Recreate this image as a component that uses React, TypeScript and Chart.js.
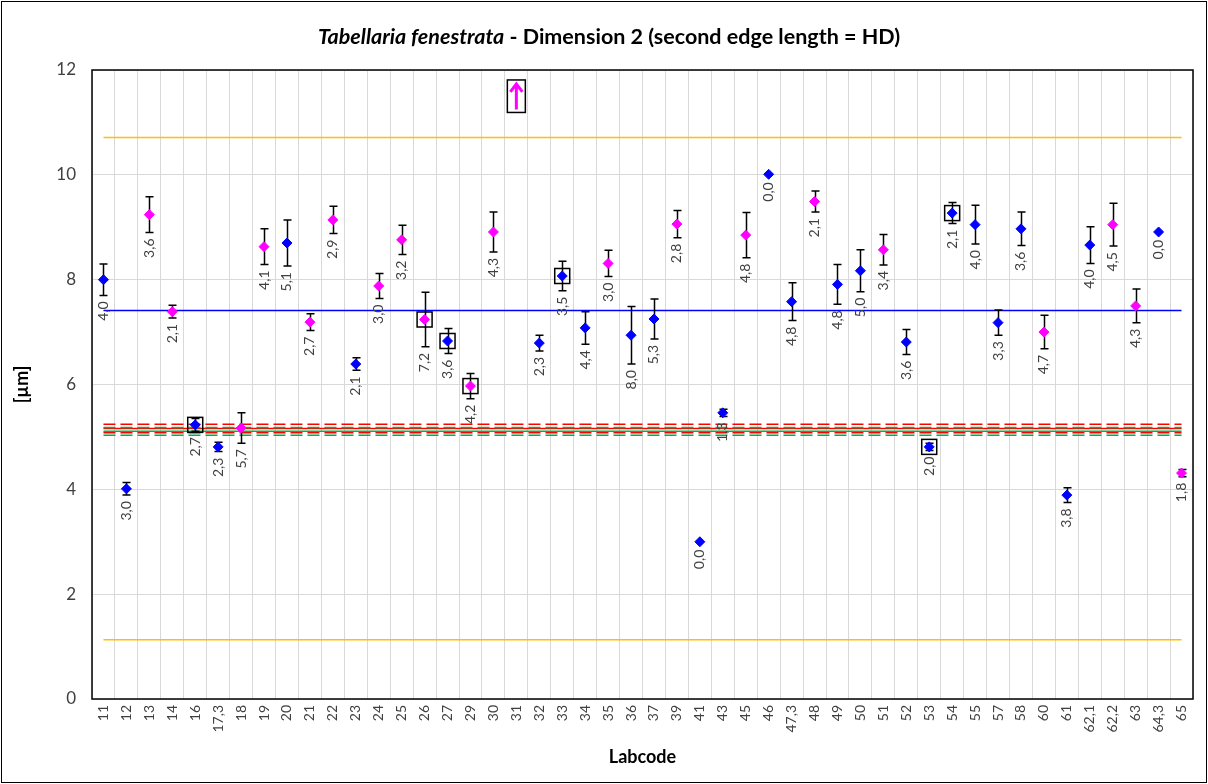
import React, { useEffect, useRef } from "react";
import { Chart, registerables } from "chart.js";

Chart.register(...registerables);

// ---------- DATA ----------
const labcodes = [
  "11", "12", "13", "14", "16", "17,3", "18", "19", "20", "21", "22", "23",
  "24", "25", "26", "27", "29", "30", "31", "32", "33", "34", "35", "36",
  "37", "39", "41", "43", "45", "46", "47,3", "48", "49", "50", "51", "52",
  "53", "54", "55", "57", "58", "60", "61", "62,1", "62,2", "63", "64,3", "65",
];

// group: "b" = blue series, "m" = magenta series, "" = no point (out of range)
const groups = [
  "b", "b", "m", "m", "b", "b", "m", "m", "b", "m", "m", "b",
  "m", "m", "m", "b", "m", "m", "", "b", "b", "b", "m", "b",
  "b", "m", "b", "b", "m", "b", "b", "m", "b", "b", "m", "b",
  "b", "b", "b", "b", "b", "m", "b", "b", "m", "m", "b", "m",
];

const means = [
  8.0, 4.01, 9.24, 7.39, 5.23, 4.81, 5.17, 8.63, 8.7, 7.19, 9.14, 6.39,
  7.88, 8.76, 7.24, 6.83, 5.97, 8.91, null, 6.79, 8.07, 7.08, 8.31, 6.94,
  7.25, 9.06, 3.0, 5.46, 8.85, 10.01, 7.58, 9.49, 7.91, 8.17, 8.57, 6.81,
  4.81, 9.27, 9.05, 7.18, 8.97, 7.0, 3.89, 8.66, 9.05, 7.5, 8.91, 4.31,
];

const sds = [
  0.3, 0.12, 0.34, 0.12, 0.12, 0.09, 0.29, 0.34, 0.44, 0.16, 0.26, 0.12,
  0.24, 0.28, 0.52, 0.24, 0.24, 0.38, 0, 0.15, 0.28, 0.31, 0.25, 0.55,
  0.38, 0.26, 0, 0.07, 0.43, 0, 0.36, 0.2, 0.38, 0.4, 0.29, 0.24,
  0.07, 0.2, 0.37, 0.24, 0.32, 0.32, 0.14, 0.35, 0.41, 0.32, 0, 0.07,
];

const pointLabels = [
  "4,0", "3,0", "3,6", "2,1", "2,7", "2,3", "5,7", "4,1", "5,1", "2,7", "2,9", "2,1",
  "3,0", "3,2", "7,2", "3,6", "4,2", "4,3", "", "2,3", "3,5", "4,4", "3,0", "8,0",
  "5,3", "2,8", "0,0", "1,3", "4,8", "0,0", "4,8", "2,1", "4,8", "5,0", "3,4", "3,6",
  "2,0", "2,1", "4,0", "3,3", "3,6", "4,7", "3,8", "4,0", "4,5", "4,3", "0,0", "1,8",
];

// labcodes whose marker is framed by a square
const boxedLabcodes = ["16", "26", "27", "29", "33", "53", "54"];

// out-of-range indicator (arrow) : labcode and plotted position
const arrowLabcodes = ["31"];
const arrowValues = [11.5];

// reference lines
const refValues = [10.71, 1.13, 7.41, 5.24, 5.08, 5.16, 5.18, 5.03, 5.11];
const refKinds = ["limit", "limit", "mean", "redDash", "redDash", "red", "greenDash", "greenDash", "green"];

const yTicks = [0, 2, 4, 6, 8, 10, 12];

const titleItalic = "Tabellaria fenestrata";
const titleRest = " - Dimension 2 (second edge length = HD)";
const yTitle = "[µm]";
const xTitle = "Labcode";

// ---------- STYLE ----------
const BLUE = "#0000FF";
const MAGENTA = "#FF00FF";
const FONT = "Lato, 'Open Sans', sans-serif";
const refStyle: Record<string, { color: string; dash: number[]; width: number }> = {
  limit: { color: "#FFC000", dash: [], width: 1.5 },
  mean: { color: "#0000FF", dash: [], width: 1.5 },
  red: { color: "#FF0000", dash: [], width: 1.5 },
  redDash: { color: "#FF0000", dash: [12, 5], width: 1.5 },
  green: { color: "#00B050", dash: [], width: 1.5 },
  greenDash: { color: "#00B050", dash: [12, 5], width: 1.5 },
};

const overlayPlugin = {
  id: "overlay",
  beforeDatasetsDraw(chart: any) {
    const { ctx, scales } = chart;
    const x = scales.x;
    const y = scales.y;
    ctx.save();
    const x0 = x.getPixelForValue(0);
    const x1 = x.getPixelForValue(labcodes.length - 1);
    refValues.forEach((v, i) => {
      const st = refStyle[refKinds[i]];
      const py = y.getPixelForValue(v);
      ctx.strokeStyle = st.color;
      ctx.lineWidth = st.width;
      ctx.setLineDash(st.dash);
      ctx.beginPath();
      ctx.moveTo(x0, py);
      ctx.lineTo(x1, py);
      ctx.stroke();
    });
    ctx.setLineDash([]);
    // error bars
    ctx.strokeStyle = "#000";
    ctx.lineWidth = 1.5;
    means.forEach((m, i) => {
      if (m == null || !sds[i]) return;
      const px = Math.round(x.getPixelForValue(i)) + 0.5;
      const top = y.getPixelForValue(m + sds[i]);
      const bot = y.getPixelForValue(m - sds[i]);
      ctx.beginPath();
      ctx.moveTo(px, top);
      ctx.lineTo(px, bot);
      ctx.moveTo(px - 4, top);
      ctx.lineTo(px + 4, top);
      ctx.moveTo(px - 4, bot);
      ctx.lineTo(px + 4, bot);
      ctx.stroke();
    });
    ctx.restore();
  },
  afterDatasetsDraw(chart: any) {
    const { ctx, scales } = chart;
    const x = scales.x;
    const y = scales.y;
    ctx.save();
    // boxes
    ctx.strokeStyle = "#000";
    ctx.lineWidth = 1.5;
    boxedLabcodes.forEach((lc) => {
      const i = labcodes.indexOf(lc);
      const m = means[i];
      if (i < 0 || m == null) return;
      const px = x.getPixelForValue(i);
      const py = y.getPixelForValue(m);
      ctx.strokeRect(px - 7.5, py - 7.5, 15, 15);
    });
    // arrows
    arrowLabcodes.forEach((lc, k) => {
      const i = labcodes.indexOf(lc);
      const px = x.getPixelForValue(i);
      const v = arrowValues[k];
      const yTop = y.getPixelForValue(v + 0.31);
      const yBot = y.getPixelForValue(v - 0.31);
      ctx.strokeStyle = "#000";
      ctx.lineWidth = 1.5;
      ctx.strokeRect(px - 9, yTop, 18, yBot - yTop);
      ctx.strokeStyle = MAGENTA;
      ctx.lineWidth = 3;
      ctx.beginPath();
      ctx.moveTo(px, yBot - 3);
      ctx.lineTo(px, yTop + 4);
      ctx.moveTo(px - 6, yTop + 12);
      ctx.lineTo(px, yTop + 4);
      ctx.lineTo(px + 6, yTop + 12);
      ctx.stroke();
    });
    // data labels
    ctx.fillStyle = "#404040";
    ctx.font = `14px ${FONT}`;
    ctx.textAlign = "right";
    ctx.textBaseline = "middle";
    means.forEach((m, i) => {
      if (m == null || !pointLabels[i]) return;
      const px = x.getPixelForValue(i);
      const py = y.getPixelForValue(m - (sds[i] || 0)) + (sds[i] ? 6 : 8);
      ctx.save();
      ctx.translate(px, py);
      ctx.rotate(-Math.PI / 2);
      ctx.fillText(pointLabels[i], 0, 0);
      ctx.restore();
    });
    ctx.restore();
  },
  afterDraw(chart: any) {
    const { ctx, chartArea, width, height } = chart;
    ctx.save();
    ctx.strokeStyle = "#000";
    ctx.lineWidth = 1.5;
    ctx.strokeRect(chartArea.left, chartArea.top, chartArea.right - chartArea.left, chartArea.bottom - chartArea.top);
    ctx.lineWidth = 1;
    ctx.strokeStyle = "#000";
    ctx.strokeRect(1.5, 1.5, width - 3, height - 3);
    // title
    ctx.fillStyle = "#000";
    ctx.textBaseline = "middle";
    ctx.textAlign = "left";
    const fItal = `italic bold 21.5px ${FONT}`;
    const fNorm = `bold 21.5px ${FONT}`;
    ctx.font = fItal;
    const w1 = ctx.measureText(titleItalic).width;
    ctx.font = fNorm;
    const w2 = ctx.measureText(titleRest).width;
    const startX = 609 - (w1 + w2) / 2;
    ctx.font = fItal;
    ctx.fillText(titleItalic, startX, 37);
    ctx.font = fNorm;
    ctx.fillText(titleRest, startX + w1, 37);
    ctx.restore();
  },
};

export default function App() {
  const ref = useRef<HTMLCanvasElement | null>(null);
  useEffect(() => {
    if (!ref.current) return;
    const blueData = means.map((m, i) => (groups[i] === "b" ? m : null));
    const magentaData = means.map((m, i) => (groups[i] === "m" ? m : null));
    const chart = new Chart(ref.current, {
      type: "line",
      data: {
        labels: labcodes,
        datasets: [
          {
            label: "blue",
            data: blueData,
            showLine: false,
            pointStyle: "rectRot",
            pointRadius: 5,
            pointBackgroundColor: BLUE,
            pointBorderColor: BLUE,
            pointBorderWidth: 1,
          },
          {
            label: "magenta",
            data: magentaData,
            showLine: false,
            pointStyle: "rectRot",
            pointRadius: 5,
            pointBackgroundColor: MAGENTA,
            pointBorderColor: MAGENTA,
            pointBorderWidth: 1,
          },
        ],
      },
      options: {
        responsive: false,
        animation: false,
        devicePixelRatio: 1,
        layout: { padding: { left: 0, right: 15, top: 70, bottom: 0 } },
        plugins: {
          legend: { display: false },
          title: { display: false },
          tooltip: { enabled: false },
        },
        scales: {
          x: {
            type: "category",
            offset: true,
            grid: { color: "#D9D9D9", lineWidth: 1, offset: true, drawTicks: false },
            border: { display: false },
            ticks: {
              minRotation: 90,
              maxRotation: 90,
              autoSkip: false,
              padding: 6,
              color: "#404040",
              font: { family: FONT, size: 14 },
            },
            title: {
              display: true,
              text: xTitle,
              color: "#000",
              font: { family: FONT, size: 18, weight: "bold" },
              padding: { top: 0, bottom: 16 },
            },
            afterFit: (s: any) => {
              s.height = 85;
            },
          },
          y: {
            min: 0,
            max: 12,
            afterBuildTicks: (s: any) => {
              s.ticks = yTicks.map((v) => ({ value: v }));
            },
            grid: { color: "#D9D9D9", lineWidth: 1, drawTicks: false },
            border: { display: false },
            ticks: {
              padding: 16,
              color: "#404040",
              font: { family: FONT, size: 17 },
            },
            title: {
              display: true,
              text: yTitle,
              color: "#000",
              font: { family: FONT, size: 18, weight: "bold" },
              padding: { top: 11, bottom: 0 },
            },
            afterFit: (s: any) => {
              s.width = 92;
            },
          },
        },
      },
      plugins: [overlayPlugin],
    });
    return () => chart.destroy();
  }, []);
  return (
    <div style={{ position: "fixed", left: 0, top: 0, width: 1208, height: 784, background: "#fff" }}>
      <canvas ref={ref} width={1208} height={784} style={{ width: 1208, height: 784, display: "block" }} />
    </div>
  );
}
